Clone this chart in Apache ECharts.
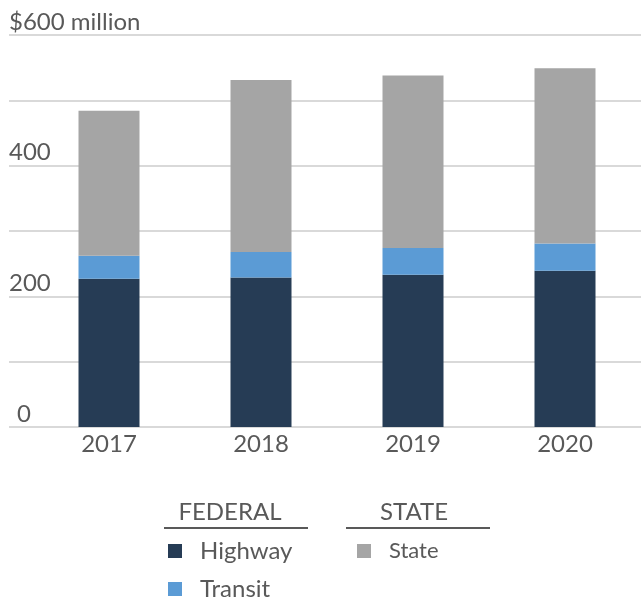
<!DOCTYPE html>
<html>
<head>
<meta charset="utf-8">
<script src="https://cdn.jsdelivr.net/npm/echarts@6/dist/echarts.min.js"></script>
<style>
html,body{margin:0;padding:0;background:#fff;}
#chart{width:641px;height:599px;}
</style>
</head>
<body>
<div id="chart"></div>
<script>
const years = ['2017', '2018', '2019', '2020'];
const highway = [227, 229, 233, 239];
const transit = [35, 39, 41, 42];
const state = [222, 263, 264, 268];
const yTicks = [0, 200, 400, 600];
const groupHeaders = ['FEDERAL', 'STATE'];

const FONT = 'Lato, "Open Sans", sans-serif';
const TXT = '#595959';

function legendFor(name, left, top, size) {
  return {
    data: [name], orient: 'vertical', left: left, top: top, padding: 0,
    icon: 'rect', itemWidth: 14, itemHeight: 14,
    selectedMode: false,
    textStyle: {color: TXT, fontSize: size, fontFamily: FONT, lineHeight: 24, padding: [0, 0, 0, 13]}
  };
}

const chart = echarts.init(document.getElementById('chart'), null, {renderer: 'canvas'});
const option = {
  animation: false,
  backgroundColor: '#ffffff',
  textStyle: {fontFamily: FONT},
  grid: [
    {left: 9, right: 0, top: 35, bottom: 172, containLabel: false},
    {left: 33, width: 612, top: 35, bottom: 172, containLabel: false}
  ],
  xAxis: [
    {gridIndex: 0, type: 'category', data: years, show: false},
    {gridIndex: 1, type: 'category', data: years,
     axisLine: {show: false}, axisTick: {show: false},
     axisLabel: {color: TXT, fontSize: 24, fontFamily: FONT, margin: 5}}
  ],
  yAxis: [
    {gridIndex: 0, type: 'value', min: 0, max: 600, interval: 100,
     axisLine: {show: false}, axisTick: {show: false},
     splitLine: {show: true, lineStyle: {color: '#d9d9d9', width: 2}},
     axisLabel: {
       inside: true, margin: 0, align: 'left', verticalAlign: 'bottom',
       color: TXT, fontSize: 24, fontFamily: FONT, padding: [0, 0, 1, 0],
       formatter: function (v) {
         if (v === 600) return '$600 million';
         if (v === 0) return '{z|0}';
         return yTicks.indexOf(v) >= 0 ? String(v) : '';
       },
       rich: {z: {fontSize: 24, fontFamily: FONT, color: TXT, padding: [0, 0, 0, 8]}}
     }},
    {gridIndex: 1, type: 'value', min: 0, max: 600, interval: 100, show: false}
  ],
  legend: [
    legendFor('Highway', 168, 539, 24),
    legendFor('Transit', 168, 577, 24),
    legendFor('State', 357, 539, 22)
  ],
  graphic: [
    {type: 'text', x: 230, y: 512, style: {text: groupHeaders[0], fill: TXT, fontSize: 24, fontFamily: FONT, align: 'center', verticalAlign: 'middle'}},
    {type: 'line', shape: {x1: 164, y1: 528, x2: 308, y2: 528}, style: {stroke: TXT, lineWidth: 2}},
    {type: 'text', x: 414, y: 512, style: {text: groupHeaders[1], fill: TXT, fontSize: 24, fontFamily: FONT, align: 'center', verticalAlign: 'middle'}},
    {type: 'line', shape: {x1: 346, y1: 528, x2: 490, y2: 528}, style: {stroke: TXT, lineWidth: 2}}
  ],
  series: [
    {name: 'Highway', type: 'bar', stack: 'total', xAxisIndex: 1, yAxisIndex: 1, barWidth: 61,
     itemStyle: {color: '#263c55'}, data: highway},
    {name: 'Transit', type: 'bar', stack: 'total', xAxisIndex: 1, yAxisIndex: 1, barWidth: 61,
     itemStyle: {color: '#5b9bd5'}, data: transit},
    {name: 'State', type: 'bar', stack: 'total', xAxisIndex: 1, yAxisIndex: 1, barWidth: 61,
     itemStyle: {color: '#a5a5a5'}, data: state}
  ]
};
chart.setOption(option);
</script>
</body>
</html>
